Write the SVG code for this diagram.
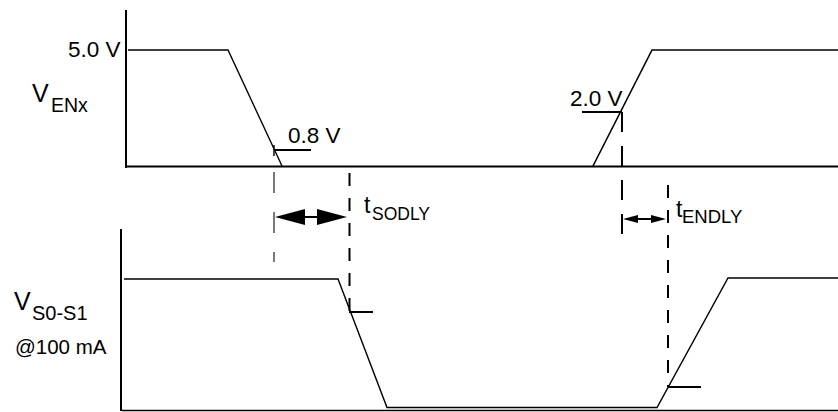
<svg xmlns="http://www.w3.org/2000/svg" width="838" height="412" viewBox="0 0 838 412">
<style>
text{font-family:"Liberation Sans",Arial,sans-serif;fill:#000}
.ax{stroke:#000;stroke-width:2;fill:none}
.wv{stroke:#000;stroke-width:1.4;fill:none}
.mk{stroke:#000;stroke-width:2;fill:none}
.dsh{stroke:#000;stroke-width:2;fill:none;stroke-dasharray:13 12}
.dthin{stroke:#333;stroke-width:1.3;fill:none;stroke-dasharray:21 19}
.ah{fill:#000;stroke:none}
</style>
<rect width="838" height="412" fill="#fff"/>
<g id="venx">
<path class="ax" d="M126 10 V168"/>
<path class="ax" d="M127 166.5 H838"/>
<path class="wv" d="M128 50 H228 L282 166"/>
<path class="wv" d="M593 166 L652 50 H838" style="stroke-width:1.6"/>
<text x="68" y="57" font-size="22.5">5.0 V</text>
<text x="32" y="102" font-size="25">V<tspan x="51" y="112" font-size="19.5">ENx</tspan></text>
<path class="mk" d="M274 150 H311"/>
<path class="wv" d="M274 145 V156"/>
<text x="288" y="143" font-size="22.5">0.8 V</text>
<path class="mk" d="M582 112 H622"/>
<text x="570" y="106" font-size="22.5">2.0 V</text>
</g>
<g id="vs0s1">
<path class="ax" d="M121 229 V411"/>
<path class="wv" d="M122 410.5 H838" style="stroke-width:1.6"/>
<path class="wv" d="M124 279 H338 L387 407.5 H657 L728 278 H838"/>
<text x="14" y="310" font-size="25">V<tspan x="32" y="320" font-size="20">S0-S1</tspan></text>
<text x="15" y="354" font-size="20.5">@100 mA</text>
<path class="mk" d="M349 312 H373"/>
<path class="mk" d="M668 387 H701"/>
</g>
<g id="connectors">
<path class="dthin" d="M274 172 V262"/>
<path class="dsh" d="M349.5 173 V313"/>
<path class="dsh" d="M622 112 V245" style="stroke-dasharray:20 14"/>
<path class="dsh" d="M668 185 V387"/>
</g>
<g id="tsodly">
<path class="mk" d="M280 217 H342"/>
<polygon class="ah" points="275,217 305,209 305,225"/>
<polygon class="ah" points="347,217 317,209 317,225"/>
<text x="364" y="213" font-size="23">t<tspan x="372" y="220" font-size="17.5">SODLY</tspan></text>
</g>
<g id="tendly">
<path class="mk" d="M626 219 H663"/>
<polygon class="ah" points="623,219 638,215 638,223"/>
<polygon class="ah" points="666,219 651,215 651,223"/>
<text x="676" y="217" font-size="23">t<tspan x="682" y="223" font-size="18.5">ENDLY</tspan></text>
</g>
</svg>
